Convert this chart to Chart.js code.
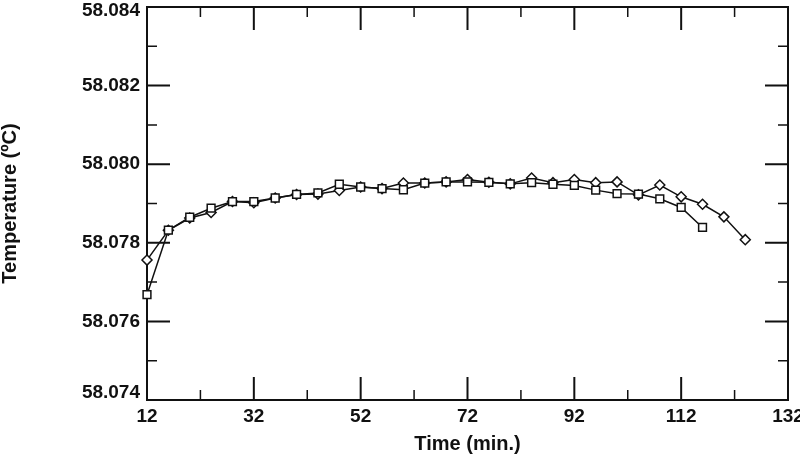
<!DOCTYPE html>
<html>
<head>
<meta charset="utf-8">
<script src="https://cdn.jsdelivr.net/npm/chart.js@4/dist/chart.umd.min.js"></script>
<style>
    html, body { margin: 0; padding: 0; background: #fff; }
    #wrap { width: 800px; height: 456px; }
</style>
</head>
<body>
<div id="wrap"><canvas id="tempChart" width="800" height="456"></canvas></div>
<script>
// sampling times (min.)
const timesDiamond = [12, 16, 20, 24, 28, 32, 36, 40, 44, 48, 52, 56, 60, 64, 68, 72, 76, 80, 84, 88, 92, 96, 100, 104, 108, 112, 116, 120, 124];
const timesSquare = [12, 16, 20, 24, 28, 32, 36, 40, 44, 48, 52, 56, 60, 64, 68, 72, 76, 80, 84, 88, 92, 96, 100, 104, 108, 112, 116];

// temperatures (°C)
const tempDiamond = [58.07756, 58.07832, 58.07863, 58.07877, 58.07905, 58.07902, 58.07914, 58.07923, 58.07924, 58.07933,
    58.07942, 58.07938, 58.07952, 58.07952, 58.07955, 58.07961, 58.07954, 58.07950, 58.07965, 58.07953,
    58.07961, 58.07953, 58.07955, 58.07922, 58.07947, 58.07917, 58.07898, 58.07866, 58.07808];
const tempSquare = [58.07668, 58.07832, 58.07865, 58.07888, 58.07905, 58.07905, 58.07914, 58.07923, 58.07927, 58.07949,
    58.07942, 58.07938, 58.07935, 58.07952, 58.07955, 58.07955, 58.07954, 58.07950, 58.07953, 58.07949,
    58.07946, 58.07934, 58.07925, 58.07924, 58.07912, 58.07890, 58.07839];

// axis ticks
const xTicks = [12, 32, 52, 72, 92, 112, 132];
const xMinorTicks = [22, 42, 62, 82, 102, 122];
const yTicks = [58.074, 58.076, 58.078, 58.080, 58.082, 58.084];
const yMinorTicks = [58.075, 58.077, 58.079, 58.081, 58.083];

const FONT = "'Liberation Sans', Arial, Helvetica, sans-serif";
const INK = '#111';

function toPoints(xs, ys) {
    return xs.map((x, i) => ({ x: x, y: ys[i] }));
}

// frame + inward ticks on all four sides, y labels drawn here so the end ones can be nudged inside
const frameTicks = {
    id: 'frameTicks',
    beforeDatasetsDraw(chart) {
        const { ctx, chartArea: a, scales: { x, y } } = chart;
        ctx.save();
        ctx.strokeStyle = INK;
        ctx.lineCap = 'butt';

        const tick = (px, horiz, len, w) => {
            ctx.lineWidth = w;
            ctx.beginPath();
            if (horiz) {
                ctx.moveTo(px, a.bottom); ctx.lineTo(px, a.bottom - len);
                ctx.moveTo(px, a.top); ctx.lineTo(px, a.top + len);
            } else {
                ctx.moveTo(a.left, px); ctx.lineTo(a.left + len, px);
                ctx.moveTo(a.right, px); ctx.lineTo(a.right - len, px);
            }
            ctx.stroke();
        };
        xTicks.forEach(v => tick(x.getPixelForValue(v), true, 23, 2));
        xMinorTicks.forEach(v => tick(x.getPixelForValue(v), true, 10, 1.5));
        yTicks.forEach(v => tick(y.getPixelForValue(v), false, 23, 2));
        yMinorTicks.forEach(v => tick(y.getPixelForValue(v), false, 10, 1.5));

        ctx.lineWidth = 2;
        ctx.strokeRect(a.left, a.top, a.right - a.left, a.bottom - a.top);

        // y tick labels
        ctx.fillStyle = INK;
        ctx.font = 'bold 19px ' + FONT;
        ctx.textAlign = 'right';
        ctx.textBaseline = 'middle';
        yTicks.forEach(v => {
            let py = y.getPixelForValue(v);
            py = Math.min(Math.max(py, a.top + 4), a.bottom - 7);
            ctx.fillText(v.toFixed(3), a.left - 7, py);
        });
        ctx.restore();
    }
};

const pointCommon = {
    borderColor: INK,
    backgroundColor: '#fff',
    pointBackgroundColor: '#fff',
    pointBorderColor: INK,
    pointBorderWidth: 1.5,
    borderWidth: 1.5,
    tension: 0,
    clip: false,
    showLine: true
};

new Chart(document.getElementById('tempChart'), {
    type: 'scatter',
    data: {
        datasets: [
            Object.assign({
                label: 'Run A',
                data: toPoints(timesSquare, tempSquare),
                pointStyle: 'rect',
                pointRadius: 5.5
            }, pointCommon),
            Object.assign({
                label: 'Run B',
                data: toPoints(timesDiamond, tempDiamond),
                pointStyle: 'rectRot',
                pointRadius: 5
            }, pointCommon)
        ]
    },
    options: {
        responsive: false,
        animation: false,
        layout: { padding: { top: 5, right: 12, left: 0, bottom: 0 } },
        plugins: {
            legend: { display: false },
            tooltip: { enabled: false }
        },
        scales: {
            x: {
                type: 'linear',
                min: 12,
                max: 132,
                grid: { display: false, drawTicks: false },
                border: { display: false },
                afterBuildTicks: s => { s.ticks = xTicks.map(v => ({ value: v })); },
                afterFit: s => { s.height = 56; s.paddingLeft = 0; s.paddingRight = 0; },
                ticks: {
                    color: INK,
                    padding: 5,
                    maxRotation: 0,
                    autoSkip: false,
                    font: { family: FONT, size: 19, weight: 'bold' }
                },
                title: {
                    display: true,
                    text: 'Time (min.)',
                    color: INK,
                    padding: { top: 0, bottom: 1 },
                    font: { family: FONT, size: 20, weight: 'bold', lineHeight: 1.1 }
                }
            },
            y: {
                type: 'linear',
                min: 58.074,
                max: 58.084,
                grid: { display: false, drawTicks: false },
                border: { display: false },
                afterBuildTicks: s => { s.ticks = yTicks.map(v => ({ value: v })); },
                afterFit: s => { s.width = 147; s.paddingTop = 0; s.paddingBottom = 0; },
                ticks: { display: false },
                title: {
                    display: true,
                    text: 'Temperature (ºC)',
                    color: INK,
                    padding: { top: 0, bottom: 0 },
                    font: { family: FONT, size: 20, weight: 'bold', lineHeight: 1 }
                }
            }
        }
    },
    plugins: [frameTicks]
});
</script>
</body>
</html>
